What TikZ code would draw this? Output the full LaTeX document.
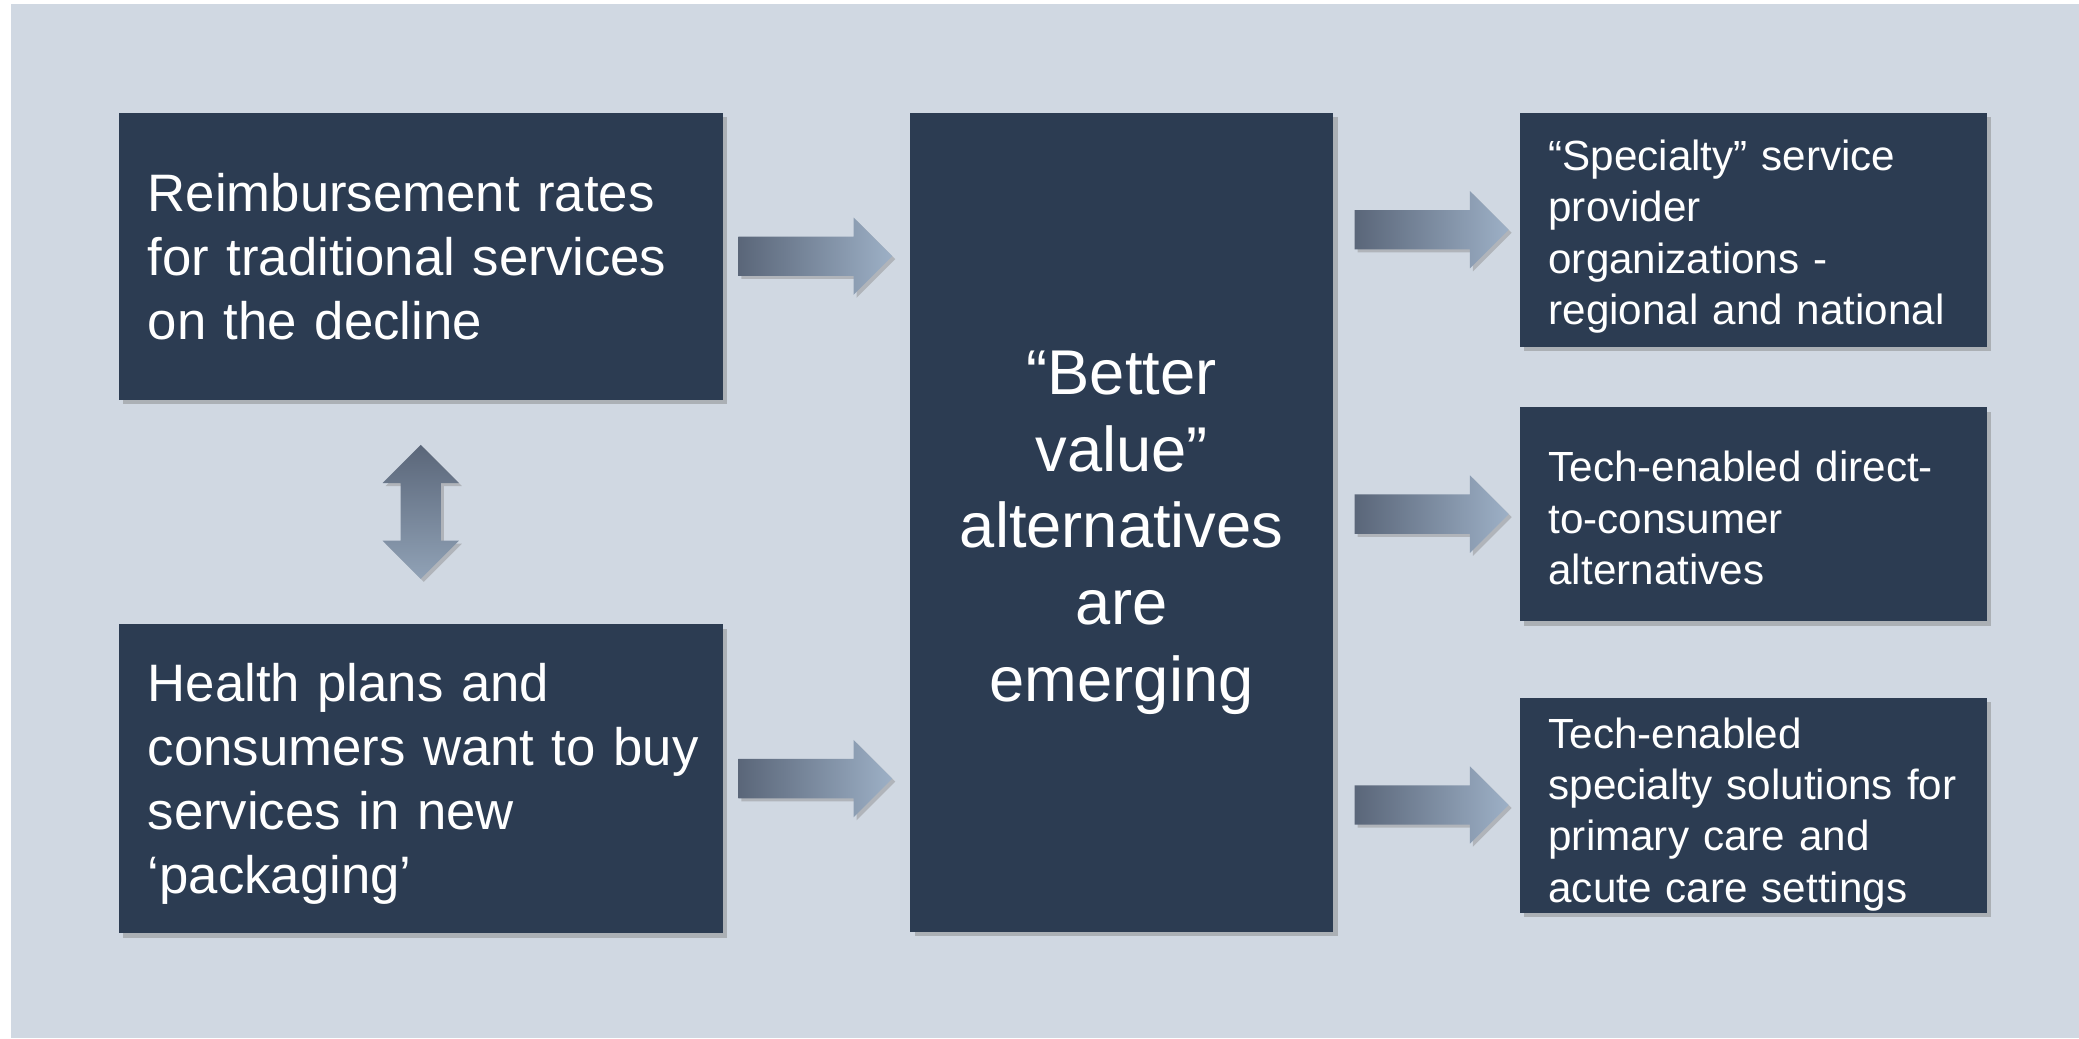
\documentclass[tikz,border=0pt]{standalone}
\usepackage{fontspec}
\setmainfont{Liberation Sans}
\usetikzlibrary{positioning,shapes.arrows,shadows}

\definecolor{slate}{HTML}{2C3C52}
\definecolor{paper}{HTML}{D0D8E2}
\definecolor{arrowdark}{HTML}{5A6679}
\definecolor{arrowlight}{HTML}{9DB0C6}

\tikzset{
  panel/.style={fill=slate, text=white, inner ysep=0pt, inner xsep=2.9mm,
    drop shadow={shadow xshift=0.45mm, shadow yshift=-0.45mm, opacity=0.45}},
  leftpanel/.style={panel, align=left, text width=54.6mm, minimum width=60.4mm,
    font=\fontsize{15}{18.2}\selectfont},
  sidepanel/.style={panel, align=left, text width=40.9mm, minimum width=46.7mm,
    font=\fontsize{12}{14.6}\selectfont},
  fatarrow/.style={single arrow, minimum height=15.4mm, minimum width=7.6mm,
    single arrow head extend=1.9mm, inner sep=1.9mm,
    left color=arrowdark, right color=arrowlight,
    drop shadow={shadow xshift=0.3mm, shadow yshift=-0.3mm, opacity=0.4}},
  bothways/.style={double arrow, shape border rotate=90, minimum height=13.4mm,
    minimum width=7.5mm, double arrow head extend=1.8mm, inner sep=1.95mm,
    top color=arrowdark, bottom color=arrowlight!92!black,
    drop shadow={shadow xshift=0.3mm, shadow yshift=-0.3mm, opacity=0.4}}
}

\begin{document}
\begin{tikzpicture}
% page and backdrop
\useasboundingbox (0,0) rectangle (207.9mm,-103.8mm);
\fill[white] (0,0) rectangle (207.9mm,-103.8mm);
\fill[paper] (1.1mm,-0.4mm) rectangle (207.9mm,-103.8mm);

% drivers on the left
\node[leftpanel, minimum height=28.7mm, anchor=north west] (reimb) at (11.8mm,-11.2mm)
  {Reimbursement rates\\for traditional services\\on the decline};
\node[leftpanel, minimum height=30.9mm, text height=13.9pt, below=22.3mm of reimb] (plans)
  {Health plans and\\consumers~want~to~buy\\services in new\\‘packaging’};

% the middle block
\node[panel, align=center, text width=36.5mm, minimum height=81.9mm, text height=18.4pt,
  font=\fontsize{18}{21.9}\selectfont,
  right=18.6mm of reimb.north east, anchor=north west] (better)
  {“Better\\value”\\alternatives\\are\\emerging};

% outcomes on the right
\node[sidepanel, minimum height=23.4mm, text height=12.6pt,
  right=18.5mm of better.north east, anchor=north west] (orgs)
  {“Specialty” service\\provider\\organizations -\\regional and national};
\node[sidepanel, minimum height=21.4mm, text height=11pt, below=5.9mm of orgs] (direct)
  {Tech-enabled direct-\\to-consumer\\alternatives};
\node[sidepanel, minimum height=21.5mm, text height=14pt, below=7.5mm of direct] (acute)
  {Tech-enabled\\specialty solutions for\\primary care and\\acute care settings};

% block arrows
\path (reimb.south) -- (plans.north) node[midway, bothways] (link) {};
\path (reimb.east) -- (better.west |- reimb.east) node[midway, fatarrow, xshift=-1.1mm] (in1) {};
\path (plans.east) -- (better.west |- plans.east) node[midway, fatarrow, xshift=-1.1mm] (in2) {};
\path (better.east |- orgs.west) -- (orgs.west) node[midway, fatarrow, xshift=-0.45mm] (out1) {};
\path (better.east |- direct.west) -- (direct.west) node[midway, fatarrow, xshift=-0.45mm] (out2) {};
\path (better.east |- acute.west) -- (acute.west) node[midway, fatarrow, xshift=-0.45mm] (out3) {};
\end{tikzpicture}
\end{document}
